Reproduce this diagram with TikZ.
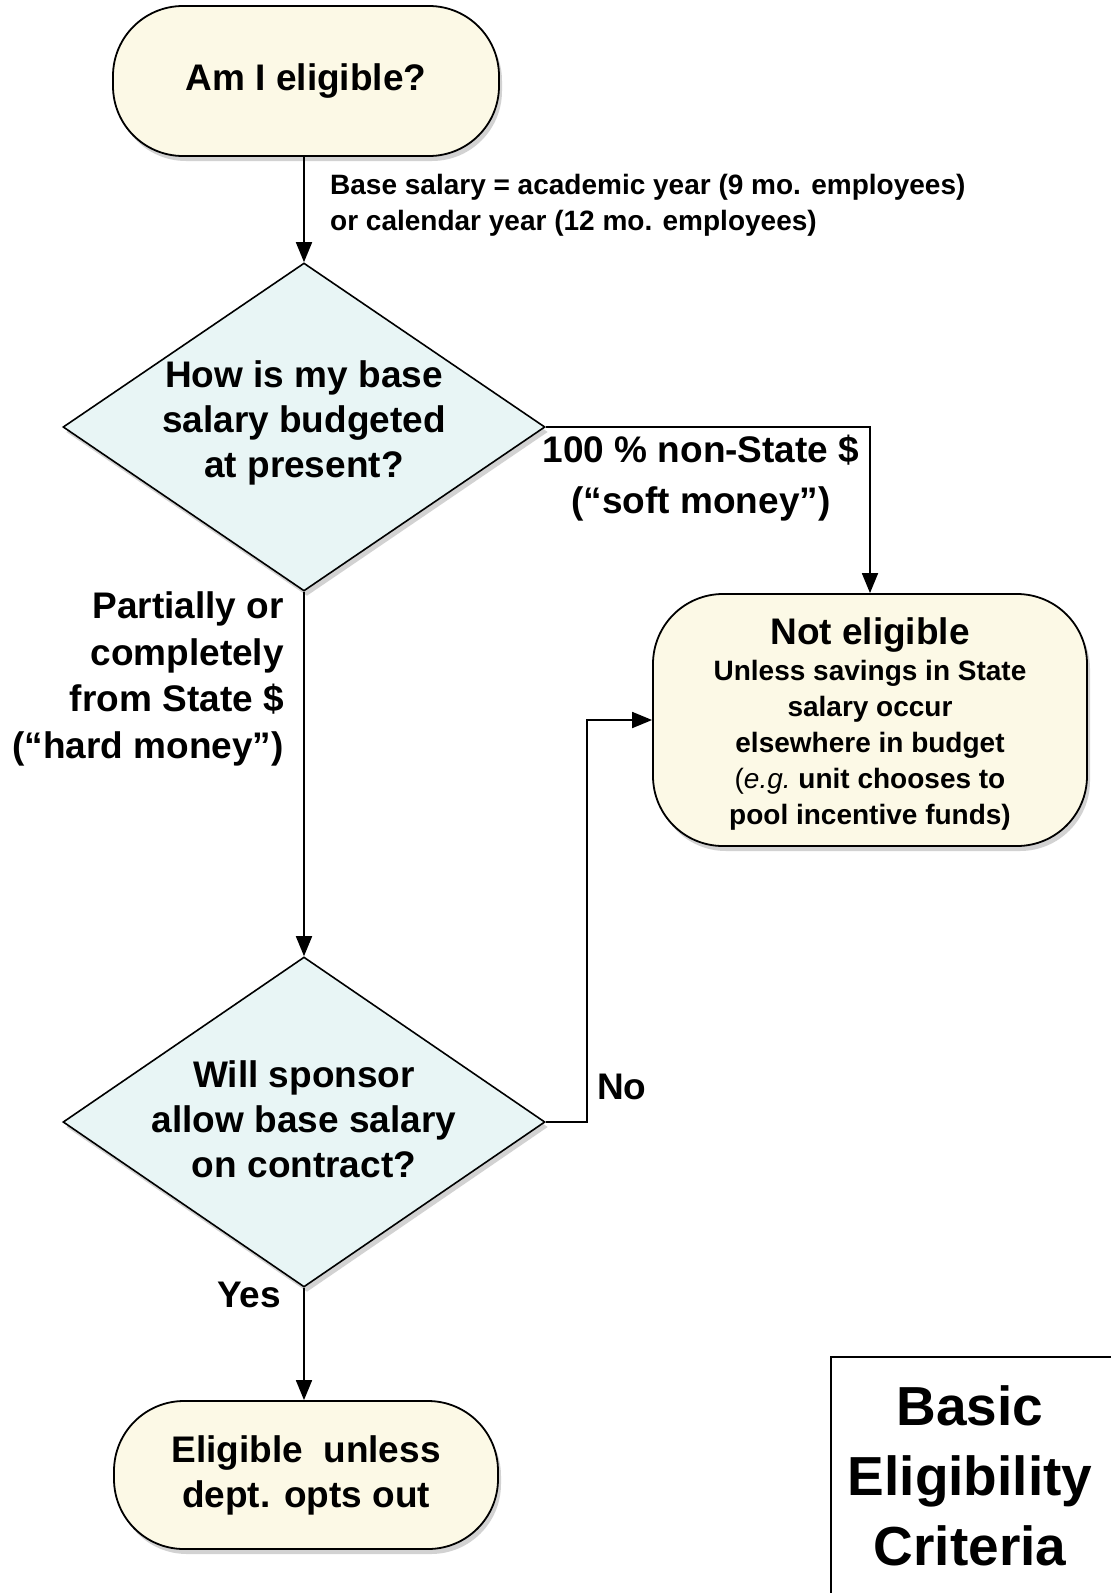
\documentclass[tikz,border=0pt]{standalone}
\usepackage{fontspec}
\setmainfont{Liberation Sans}
\usetikzlibrary{shapes.geometric,arrows.meta,shadows}
\definecolor{termfill}{RGB}{252,249,230}
\definecolor{decfill}{RGB}{232,245,245}
\begin{document}
\begin{tikzpicture}[x=1pt,y=-1pt,
  bigfont/.style={font=\fontsize{37}{45}\selectfont\bfseries},
  smallfont/.style={font=\fontsize{28}{36}\selectfont\bfseries},
  term/.style={draw=black, line width=1.8pt, fill=termfill, rounded corners=70pt,
     inner sep=0pt, align=center, drop shadow={opacity=0.35, shadow xshift=3pt, shadow yshift=-5pt}},
  decision/.style={draw=black, line width=1.6pt, fill=decfill, diamond, aspect=1.47,
     inner sep=0pt, drop shadow={opacity=0.35, shadow xshift=3pt, shadow yshift=-5pt}},
  qtext/.style={bigfont, align=center, inner sep=0pt},
  lbl/.style={inner sep=0pt},
  conn/.style={line width=1.8pt, -{Triangle[length=20pt,width=16pt]}},
  plain/.style={line width=1.8pt}
]
\useasboundingbox[fill=white] (0,0) rectangle (1111,1593);

% nodes
\node[term, bigfont, minimum width=386pt, minimum height=150pt] (top) at (306,81) {Am I eligible?};

\node[decision, minimum width=482pt, minimum height=328pt] (d1) at (304,427) {};
\node[qtext] (d1t) at (304,423) {How is my base\\salary budgeted\\at present?};

\node[term, minimum width=434pt, minimum height=252pt] (ne) at (870,720) {};
\node[lbl, align=center, font=\fontsize{28}{36}\selectfont\bfseries] (net) at (870,724)
  {\fontsize{37}{40}\selectfont Not eligible\\
   \fontsize{28}{36}\selectfont Unless savings in State\\salary occur\\elsewhere in budget\\\mdseries(\itshape e.g.\upshape\bfseries\ unit chooses to\\pool incentive funds)};

\node[decision, minimum width=482pt, minimum height=330pt] (d2) at (304,1122) {};
\node[qtext] (d2t) at (304,1119) {Will sponsor\\allow base salary\\on contract?};

\node[term, bigfont, minimum width=384pt, minimum height=148pt] (bot) at (306,1475) {Eligible~~unless\\dept. opts out};

% labels
\node[lbl, smallfont, anchor=west, align=left] (lbase) at (330,205)
  {Base salary = academic year (9 mo. employees)\\or calendar year (12 mo. employees)};
\node[lbl, font=\fontsize{37}{51}\selectfont\bfseries, align=center] (lsoft) at (701,478)
  {100 \% non-State \$\\(“soft money”)};
\node[lbl, font=\fontsize{37}{46.5}\selectfont\bfseries, anchor=east, align=right] (lhard) at (284,679)
  {Partially or\\completely\\from State \$\\(“hard money”)};
\node[lbl, bigfont, anchor=west] (lno) at (597,1087) {No};
\node[lbl, bigfont, anchor=east] (lyes) at (281,1295) {Yes};

% connectors
\draw[conn] (top.south -| d1.north) -- (d1.north);
\draw[conn] (d1.east) -| (ne.north);
\draw[conn] (d1.south) -- (d2.north);
\coordinate (nobend) at (587,1122);
\draw[conn] (d2.east) -- (nobend) |- (ne.west);
\draw[conn] (d2.south) -- (bot.north -| d2.south);

% corner title box
\coordinate (cbl) at (831,1620);
\coordinate (ctl) at (831,1357);
\coordinate (ctr) at (1140,1357);
\draw[line width=2.6pt] (cbl) -- (ctl) -- (ctr);
\node[lbl, font=\fontsize{55}{70}\selectfont\bfseries, align=center] (title) at (970,1476)
  {Basic\\Eligibility\\Criteria};
\end{tikzpicture}
\end{document}
